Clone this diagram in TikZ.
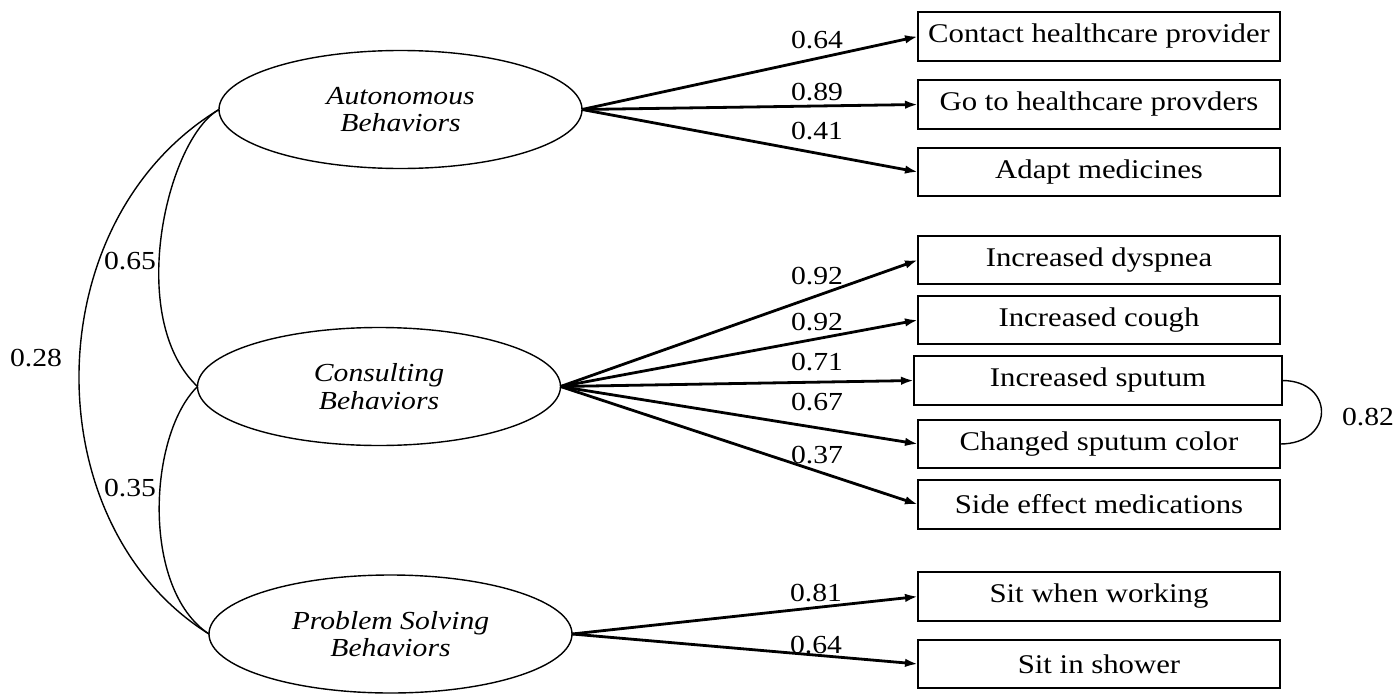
\documentclass[tikz,border=0pt]{standalone}
\usepackage{fontspec}
\setmainfont{Liberation Serif}[FakeStretch=1.14]
\usetikzlibrary{shapes.geometric,arrows.meta}
\begin{document}
\begin{tikzpicture}[x=1pt,y=-1pt,
  lat/.style={ellipse,draw,line width=1.4pt,minimum width=363pt,minimum height=118pt,inner sep=0pt,outer sep=0pt,align=center,font=\fontsize{26}{27.5}\selectfont\itshape},
  obs/.style={rectangle,draw,line width=1.6pt,minimum width=362pt,minimum height=48.5pt,inner sep=0pt,outer sep=0pt,font=\fontsize{27}{28}\selectfont},
  load/.style={-{Latex[length=13pt,width=8.5pt]},line width=2.8pt},
  cov/.style={line width=1.4pt},
  num/.style={font=\fontsize{26}{27}\selectfont,inner sep=0pt}]
\useasboundingbox (0,0) rectangle (1399,693);

% latent variables
\node[lat] (A) at (400.5,109.5) {Autonomous\\Behaviors};
\node[lat] (C) at (379,386.5) {Consulting\\Behaviors};
\node[lat] (P) at (390.5,634) {Problem Solving\\Behaviors};

% observed variables
\node[obs] (a1) at (1099,36.5) {Contact healthcare provider};
\node[obs] (a2) at (1099,104.5) {Go to healthcare provders};
\node[obs] (a3) at (1099,172) {Adapt medicines};
\node[obs] (c1) at (1099,260) {Increased dyspnea};
\node[obs] (c2) at (1099,320) {Increased cough};
\node[obs,minimum width=368pt] (c3) at (1098,380.5) {Increased sputum};
\node[obs] (c4) at (1099,444) {Changed sputum color};
\node[obs] (c5) at (1099,504.5) {Side effect medications};
\node[obs] (p1) at (1099,596.5) {Sit when working};
\node[obs] (p2) at (1099,664) {Sit in shower};

% loadings
\draw[load] (A.east) -- (a1.west);
\draw[load] (A.east) -- (a2.west);
\draw[load] (A.east) -- (a3.west);
\draw[load] (C.east) -- (c1.west);
\draw[load] (C.east) -- (c2.west);
\draw[load] (C.east) -- (c3.west);
\draw[load] (C.east) -- (c4.west);
\draw[load] (C.east) -- (c5.west);
\draw[load] (P.east) -- (p1.west);
\draw[load] (P.east) -- (p2.west);

\node[num] (la1) at (817,40) {0.64};
\node[num] (la2) at (817,92) {0.89};
\node[num] (la3) at (817,131) {0.41};
\node[num] (lc1) at (817,276) {0.92};
\node[num] (lc2) at (817,322) {0.92};
\node[num] (lc3) at (817,362) {0.71};
\node[num] (lc4) at (817,402) {0.67};
\node[num] (lc5) at (817,455) {0.37};
\node[num] (lp1) at (816,593) {0.81};
\node[num] (lp2) at (816,645) {0.64};

% covariances
\draw[cov] (A.west) .. controls (167,139) and (125,318) .. (C.west);
\draw[cov] (C.west) .. controls (148,435) and (141,589) .. (P.west);
\draw[cov] (A.west) .. controls (34,222) and (34,525) .. (P.west);
\draw[cov] (c3.east) .. controls (1335,380.5) and (1335,444) .. (c4.east);

\node[num] (lac) at (130,261) {0.65};
\node[num] (lcp) at (130,488) {0.35};
\node[num] (lap) at (36,358) {0.28};
\node[num] (lcc) at (1368,417) {0.82};
\end{tikzpicture}
\end{document}
